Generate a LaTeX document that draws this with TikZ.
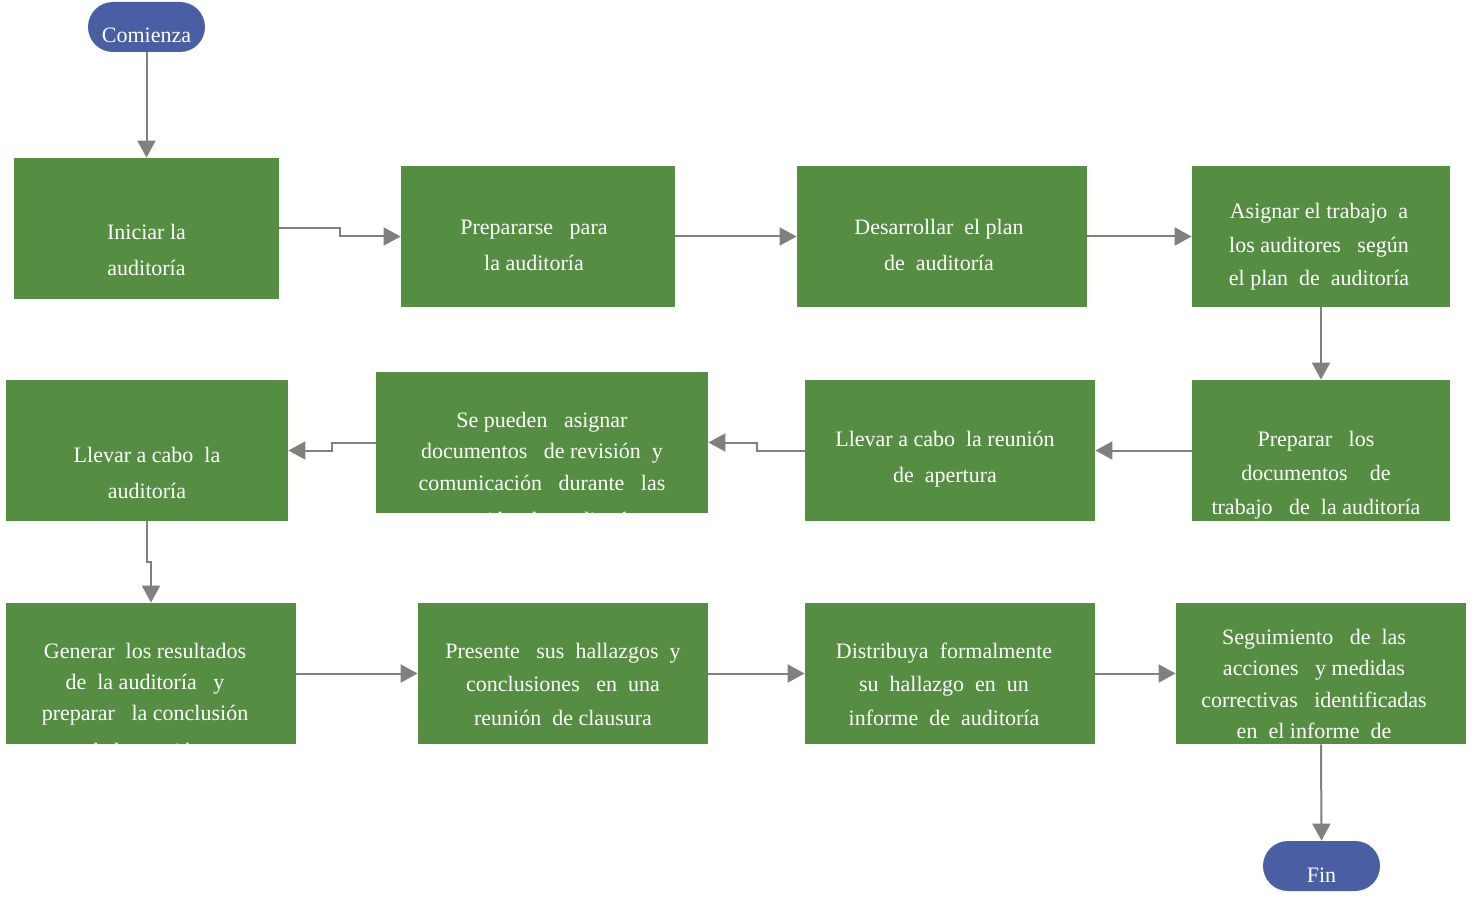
\documentclass[tikz,border=0pt]{standalone}
\usepackage{fontspec}
\setmainfont{Liberation Serif}
\usepackage{tikz}
\usetikzlibrary{arrows.meta, positioning, calc}
\definecolor{boxgreen}{RGB}{85,142,66}
\definecolor{termblue}{RGB}{74,94,163}
\definecolor{arrgray}{RGB}{128,128,128}
\tikzset{
  stepbox/.style={rectangle, fill=boxgreen, inner sep=0pt, minimum height=70.5pt},
  term/.style={rectangle, fill=termblue, rounded corners=12.5pt,
    inner sep=0pt, minimum width=58.5pt, minimum height=25pt},
  txt/.style={text=white, align=center, inner sep=0pt,
    font=\fontsize{11}{#1}\selectfont},
  txt/.default=18pt,
  arrow/.style={-{Triangle[length=8.5pt,width=9pt]}, line width=1pt, color=arrgray}
}

\begin{document}
\begin{tikzpicture}[x=0.5pt, y=-0.5pt]
  \useasboundingbox (0,0) rectangle (1474,899);

  % Terminals
  \node[term] (start) at (146.5,27) {};
  \node[txt] (start-t) at ($(start.center)+(0,8)$) {Comienza};
  \node[term] (fin) at (1321.5,866) {};
  \node[txt] (fin-t) at ($(fin.center)+(0,9)$) {Fin};

  % Row 1
  \node[stepbox, minimum width=132.5pt] (iniciar) at (146.5,228.5) {};
  \node[txt] (iniciar-t) at ($(iniciar.center)+(0,21.5)$) {Iniciar la\\auditoría};
  \node[stepbox, minimum width=137pt] (preparar) at (538,236.5) {};
  \node[txt] (preparar-t) at ($(preparar.center)+(-4,8.5)$) {Prepararse\ \ \ para\\la auditoría};
  \node[stepbox, minimum width=145pt] (plan) at (942,236.5) {};
  \node[txt] (plan-t) at ($(plan.center)+(-3,8.5)$) {Desarrollar\ \ el plan\\de\ \ auditoría};
  \node[stepbox, minimum width=129pt] (asignar) at (1321,236.5) {};
  \node[txt=16.75pt] (asignar-t) at ($(asignar.center)+(-2,10.5)$) {Asignar el trabajo\ \ a\\los auditores\ \ \ según\\el plan\ \ de\ \ auditoría};

  % Row 2
  \node[stepbox, minimum width=129pt] (documentos) at (1321,450.5) {};
  \node[txt=17pt] (documentos-t) at ($(documentos.center)+(-5,24.5)$) {Preparar\ \ \ los\\documentos\ \ \ \ de\\trabajo\ \ \ de\ \ la auditoría};
  \node[stepbox, minimum width=145pt] (apertura) at (950,450.5) {};
  \node[txt] (apertura-t) at ($(apertura.center)+(-5,9)$) {Llevar a cabo\ \ la reunión\\de\ \ apertura};
  \node[stepbox, minimum width=166pt] (revision) at (542,442.5) {};
  \begin{scope}
    \clip (revision.north west) rectangle (revision.south east);
    \node[txt=15.75pt] (revision-t) at ($(revision.center)+(0,27.5)$) {Se pueden\ \ \ asignar\\documentos\ \ \ de revisión\ \ y\\comunicación\ \ \ durante\ \ \ las\\[3pt]reunión\ \ de\ \ auditoría};
  \end{scope}
  \node[stepbox, minimum width=141pt] (llevar) at (147,450.5) {};
  \node[txt] (llevar-t) at ($(llevar.center)+(0,22)$) {Llevar a cabo\ \ la\\auditoría};

  % Row 3
  \node[stepbox, minimum width=145pt] (generar) at (151,673.5) {};
  \begin{scope}
    \clip (generar.north west) rectangle (generar.south east);
    \node[txt=15.5pt] (generar-t) at ($(generar.center)+(-6,27.5)$) {Generar\ \ los resultados\\de\ \ la auditoría\ \ \ y\\preparar\ \ \ la conclusión\\[3.5pt]de la reunión};
  \end{scope}
  \node[stepbox, minimum width=145pt] (presente) at (563,673.5) {};
  \node[txt=16.75pt] (presente-t) at ($(presente.center)+(0,10.5)$) {Presente\ \ \ sus\ \ hallazgos\ \ y\\conclusiones\ \ \ en\ \ una\\reunión\ \ de clausura};
  \node[stepbox, minimum width=145pt] (distribuya) at (950,673.5) {};
  \node[txt=16.75pt] (distribuya-t) at ($(distribuya.center)+(-6,10.5)$) {Distribuya\ \ formalmente\\su\ \ hallazgo\ \ en\ \ un\\informe\ \ de\ \ auditoría};
  \node[stepbox, minimum width=145pt] (seguimiento) at (1321,673.5) {};
  \node[txt=15.65pt] (seguimiento-t) at ($(seguimiento.center)+(-7,10.5)$) {Seguimiento\ \ \ de\ \ las\\acciones\ \ \ y medidas\\correctivas\ \ \ identificadas\\en\ \ el informe\ \ de};

  % Connectors
  \draw[arrow] (start.south) -- (iniciar.north);
  \draw[arrow] (iniciar.east) -- ++(61,0) |- (preparar.west);
  \draw[arrow] (preparar.east) -- (plan.west);
  \draw[arrow] (plan.east) -- (asignar.west);
  \draw[arrow] (asignar.south) -- (documentos.north);
  \draw[arrow] (documentos.west) -- (apertura.east);
  \draw[arrow] (apertura.west) -- ++(-48,0) |- (revision.east);
  \draw[arrow] (revision.west) -- ++(-44,0) |- (llevar.east);
  \draw[arrow] (llevar.south) -- ++(0,41) -| (generar.north);
  \draw[arrow] (generar.east) -- (presente.west);
  \draw[arrow] (presente.east) -- (distribuya.west);
  \draw[arrow] (distribuya.east) -- (seguimiento.west);
  \draw[arrow] (seguimiento.south) -- (fin.north);
\end{tikzpicture}
\end{document}
